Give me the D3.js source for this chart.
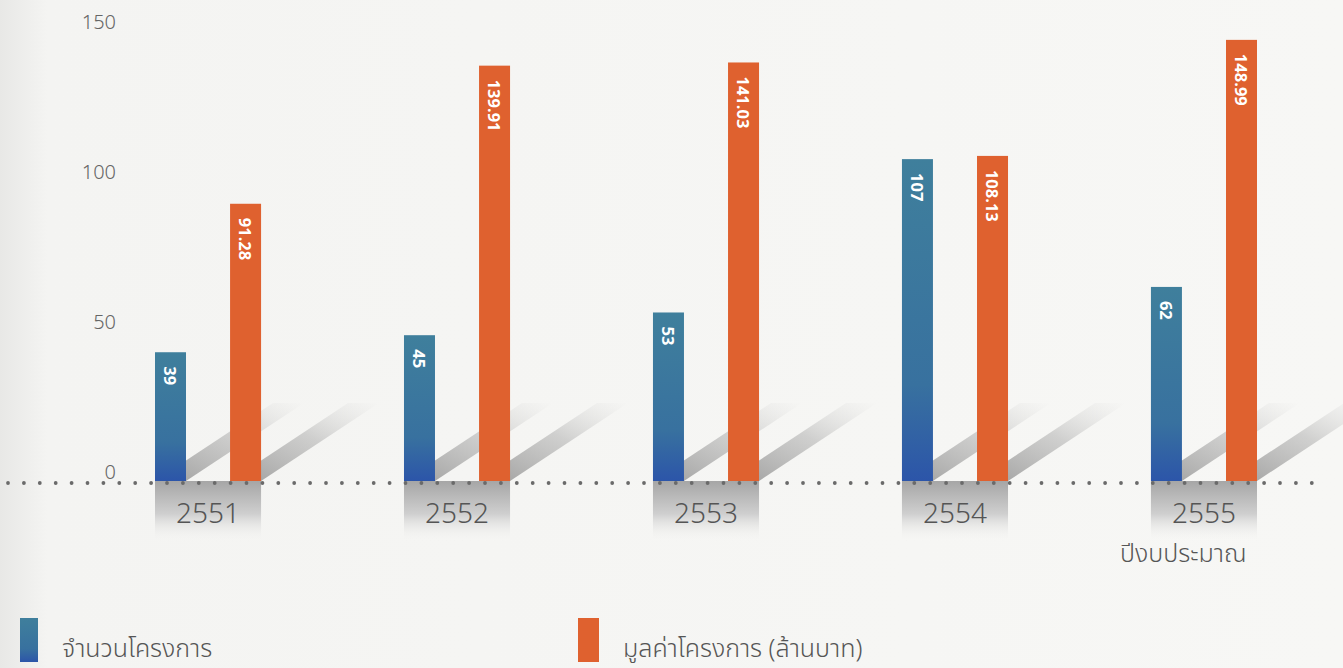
<!DOCTYPE html>
<html>
<head>
<meta charset="utf-8">
<script src="https://cdn.jsdelivr.net/npm/d3@7"></script>
<style>
  html, body { margin: 0; padding: 0; background: #f6f6f4; }
  svg { display: block; }
  .tick-label { font-family: "Noto Sans", "Open Sans", sans-serif; font-weight: 300; font-size: 20px; fill: #666; }
  .year-label { font-family: "Noto Sans", "Open Sans", sans-serif; font-weight: 300; font-size: 28px; fill: #555; }
  .value-label { font-family: "Open Sans", "Noto Sans", sans-serif; font-weight: 700; font-size: 16.5px; fill: #fff; }
  .thai { font-family: "Noto Sans Thai", "Noto Sans Thai UI", "Noto Sans", sans-serif; font-weight: 300; font-size: 25px; fill: #555; }
</style>
</head>
<body>
<div id="chart"></div>
<script>
const years = ['2551', '2552', '2553', '2554', '2555'];
const projectCounts = [39, 45, 53, 107, 62];
const projectValues = [91.28, 139.91, 141.03, 108.13, 148.99];
const yTicks = [0, 50, 100, 150];
const seriesNames = ['จำนวนโครงการ', 'มูลค่าโครงการ (ล้านบาท)'];
const axisTitle = 'ปีงบประมาณ';

const width = 1343;
const height = 668;
const baseY = 481;

const svg = d3.select('#chart')
    .append('svg')
    .attr('width', width)
    .attr('height', height);

const defs = svg.append('defs');

// background, a bit greyer on the left edge like the scan
const bgGrad = defs.append('linearGradient').attr('id', 'bg-grad');
bgGrad.append('stop').attr('offset', '0%').attr('stop-color', '#e8e8e6');
bgGrad.append('stop').attr('offset', '3.5%').attr('stop-color', '#f4f4f2');
bgGrad.append('stop').attr('offset', '100%').attr('stop-color', '#f7f7f5');
svg.append('rect').attr('width', width).attr('height', height).attr('fill', 'url(#bg-grad)');

const blueGrad = defs.append('linearGradient')
    .attr('id', 'blue-grad')
    .attr('x1', 0).attr('y1', 0).attr('x2', 0).attr('y2', 1);
blueGrad.append('stop').attr('offset', '0%').attr('stop-color', '#3f7f9c');
blueGrad.append('stop').attr('offset', '70%').attr('stop-color', '#38719f');
blueGrad.append('stop').attr('offset', '100%').attr('stop-color', '#2c55a9');

const shadowGrad = defs.append('linearGradient')
    .attr('id', 'shadow-grad')
    .attr('x1', 0).attr('y1', 1).attr('x2', 1).attr('y2', 0);
shadowGrad.append('stop').attr('offset', '0%').attr('stop-color', '#808080').attr('stop-opacity', 0.75);
shadowGrad.append('stop').attr('offset', '55%').attr('stop-color', '#a0a0a0').attr('stop-opacity', 0.45);
shadowGrad.append('stop').attr('offset', '100%').attr('stop-color', '#cccccc').attr('stop-opacity', 0);

const boxGrad = defs.append('linearGradient')
    .attr('id', 'box-grad')
    .attr('x1', 0).attr('y1', 0).attr('x2', 0).attr('y2', 1);
boxGrad.append('stop').attr('offset', '0%').attr('stop-color', '#a6a6a6');
boxGrad.append('stop').attr('offset', '55%').attr('stop-color', '#cfcfcf');
boxGrad.append('stop').attr('offset', '100%').attr('stop-color', '#f4f4f2').attr('stop-opacity', 0);

const x = d3.scaleBand()
    .domain(years)
    .range([155, 1257])
    .paddingInner(0.574);

const xInner = d3.scaleBand()
    .domain(['count', 'value'])
    .range([0, x.bandwidth()])
    .paddingInner(0.587);

// bars sit on a small plinth below zero, as in the original artwork
const y = d3.scaleLinear()
    .domain([0, 150])
    .range([baseY - 18, baseY - 18 - 426]);

// tick labels are spaced on their own in the original
const yLabel = d3.scaleLinear()
    .domain([0, 150])
    .range([474, 24]);

const colors = { count: 'url(#blue-grad)', value: '#df612f' };

const rows = years.map((yr, i) => ({
    year: yr,
    bars: [
        { key: 'count', value: projectCounts[i], label: String(projectCounts[i]) },
        { key: 'value', value: projectValues[i], label: projectValues[i].toFixed(2) }
    ]
}));

svg.append('g')
    .selectAll('text')
    .data(yTicks)
    .join('text')
    .attr('class', 'tick-label')
    .attr('x', 116)
    .attr('y', d => yLabel(d))
    .attr('text-anchor', 'end')
    .attr('dominant-baseline', 'middle')
    .text(d => d);

const groups = svg.append('g')
    .selectAll('g')
    .data(rows)
    .join('g')
    .attr('transform', d => `translate(${x(d.year)},0)`);

// grey boxes under each year
groups.append('rect')
    .attr('x', 0)
    .attr('y', baseY)
    .attr('width', x.bandwidth())
    .attr('height', 60)
    .attr('fill', 'url(#box-grad)');

groups.append('text')
    .attr('class', 'year-label')
    .attr('x', x.bandwidth() / 2)
    .attr('y', baseY + 42)
    .attr('text-anchor', 'middle')
    .text(d => d.year);

// dotted baseline
const dots = d3.range(8, 1312, 15.9);
svg.append('g')
    .selectAll('circle')
    .data(dots)
    .join('circle')
    .attr('cx', d => d)
    .attr('cy', baseY + 2)
    .attr('r', 1.9)
    .attr('fill', '#6a6a6a');

// cast shadows behind bars
const sdx = 118, sdy = 78;
groups.selectAll('path.shadow')
    .data(d => d.bars)
    .join('path')
    .attr('class', 'shadow')
    .attr('fill', 'url(#shadow-grad)')
    .attr('d', d => {
        const x0 = xInner(d.key);
        const x1 = x0 + xInner.bandwidth();
        return `M${x0},${baseY}L${x1},${baseY}L${x1 + sdx},${baseY - sdy}L${x0 + sdx},${baseY - sdy}Z`;
    });

groups.selectAll('rect.bar')
    .data(d => d.bars)
    .join('rect')
    .attr('class', 'bar')
    .attr('x', d => xInner(d.key))
    .attr('width', xInner.bandwidth())
    .attr('y', d => y(d.value))
    .attr('height', d => baseY - y(d.value))
    .attr('fill', d => colors[d.key]);

groups.selectAll('text.value-label')
    .data(d => d.bars)
    .join('text')
    .attr('class', 'value-label')
    .attr('transform', d => `translate(${xInner(d.key) + xInner.bandwidth() / 2},${y(d.value) + 14}) rotate(90)`)
    .attr('text-anchor', 'start')
    .attr('dominant-baseline', 'central')
    .text(d => d.label);

svg.append('text')
    .attr('class', 'thai')
    .attr('x', 1120)
    .attr('y', 562)
    .text(axisTitle);

// legend
const legend = [
    { name: seriesNames[0], fill: 'url(#blue-grad)', x: 20, w: 18 },
    { name: seriesNames[1], fill: '#df612f', x: 578, w: 21 }
];
const lg = svg.append('g')
    .selectAll('g')
    .data(legend)
    .join('g')
    .attr('transform', d => `translate(${d.x},618)`);
lg.append('rect')
    .attr('width', d => d.w)
    .attr('height', 44)
    .attr('fill', d => d.fill);
lg.append('text')
    .attr('class', 'thai')
    .attr('x', d => d.w + 24)
    .attr('y', 39)
    .text(d => d.name);
</script>
</body>
</html>
